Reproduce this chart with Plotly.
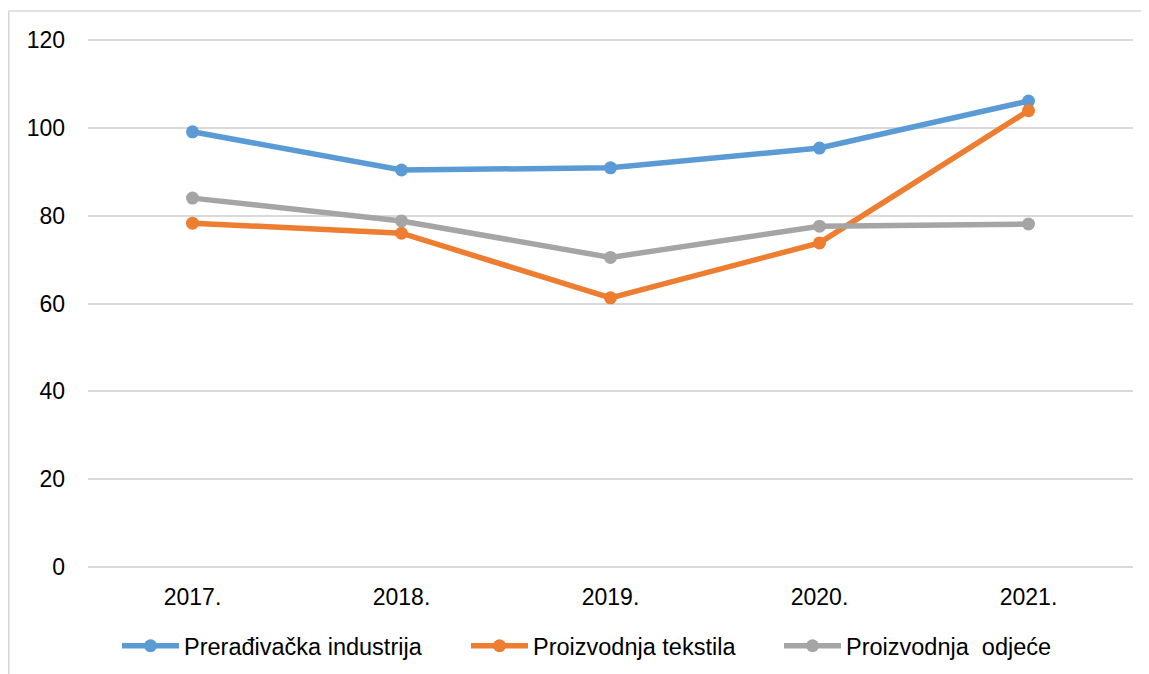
import plotly.graph_objects as go

years = ["2017.", "2018.", "2019.", "2020.", "2021."]
preradivacka = [99.1, 90.4, 90.9, 95.4, 106.1]
tekstil = [78.3, 76.0, 61.3, 73.8, 103.9]
odjeca = [84.0, 78.8, 70.5, 77.6, 78.1]

names = ["Prerađivačka industrija", "Proizvodnja tekstila", "Proizvodnja\u00a0 odjeće"]
colors = ["#5B9BD5", "#ED7D31", "#A5A5A5"]
series = [preradivacka, tekstil, odjeca]
legend_ids = ["legend", "legend2", "legend3"]

fig = go.Figure()
for name, vals, col, lg in zip(names, series, colors, legend_ids):
    fig.add_trace(go.Scatter(
        x=years, y=vals, name=name, mode="lines+markers",
        line=dict(color=col, width=5.5),
        marker=dict(color=col, size=13),
        legend=lg,
    ))

# page has an 8px body margin, so figure is sized to the remaining window
W, H = 1141, 666
L, R, T, B = 80, 16, 30, 105
pw = W - L - R
ph = H - T - B
bottom_px = H - B          # figure y of plot-area bottom


def px_to_paper_y(py):
    return (bottom_px - py) / ph


legend_px = [115 - 6, 464 - 6, 777 - 6]
leg_y = px_to_paper_y(638)


def legend_cfg(px):
    return dict(orientation="h", x=(px - L) / pw, xanchor="left", y=leg_y, yanchor="middle",
                itemwidth=57, font=dict(size=23.5), bgcolor="rgba(0,0,0,0)")


fig.update_layout(
    width=W, height=H,
    margin=dict(l=L, r=R, t=T, b=B, autoexpand=False),
    paper_bgcolor="white", plot_bgcolor="white",
    font=dict(family="Liberation Sans, Arial, sans-serif", size=23, color="#000000"),
    showlegend=True,
    legend=legend_cfg(legend_px[0]),
    legend2=legend_cfg(legend_px[1]),
    legend3=legend_cfg(legend_px[2]),
    xaxis=dict(type="category", range=[-0.5, 4.5], showgrid=False, showline=False,
               zeroline=False, ticks="", ticklabelstandoff=12),
    yaxis=dict(range=[-0.46, 120.46], tickvals=[0, 20, 40, 60, 80, 100, 120],
               showgrid=True, gridcolor="#D9D9D9", gridwidth=1.6, zeroline=False,
               showline=False, ticks="", ticklabelstandoff=22),
)

# chart-area border: top and left edges
x_left = (0.8 - L) / pw
y_top = px_to_paper_y(3)
fig.add_shape(type="line", xref="paper", yref="paper",
              x0=x_left, x1=(W + 5 - L) / pw, y0=y_top, y1=y_top,
              line=dict(color="#D9D9D9", width=1.6), layer="below")
fig.add_shape(type="line", xref="paper", yref="paper",
              x0=x_left, x1=x_left, y0=y_top, y1=px_to_paper_y(H + 5),
              line=dict(color="#D9D9D9", width=1.6), layer="below")

fig.write_html("out.html")
